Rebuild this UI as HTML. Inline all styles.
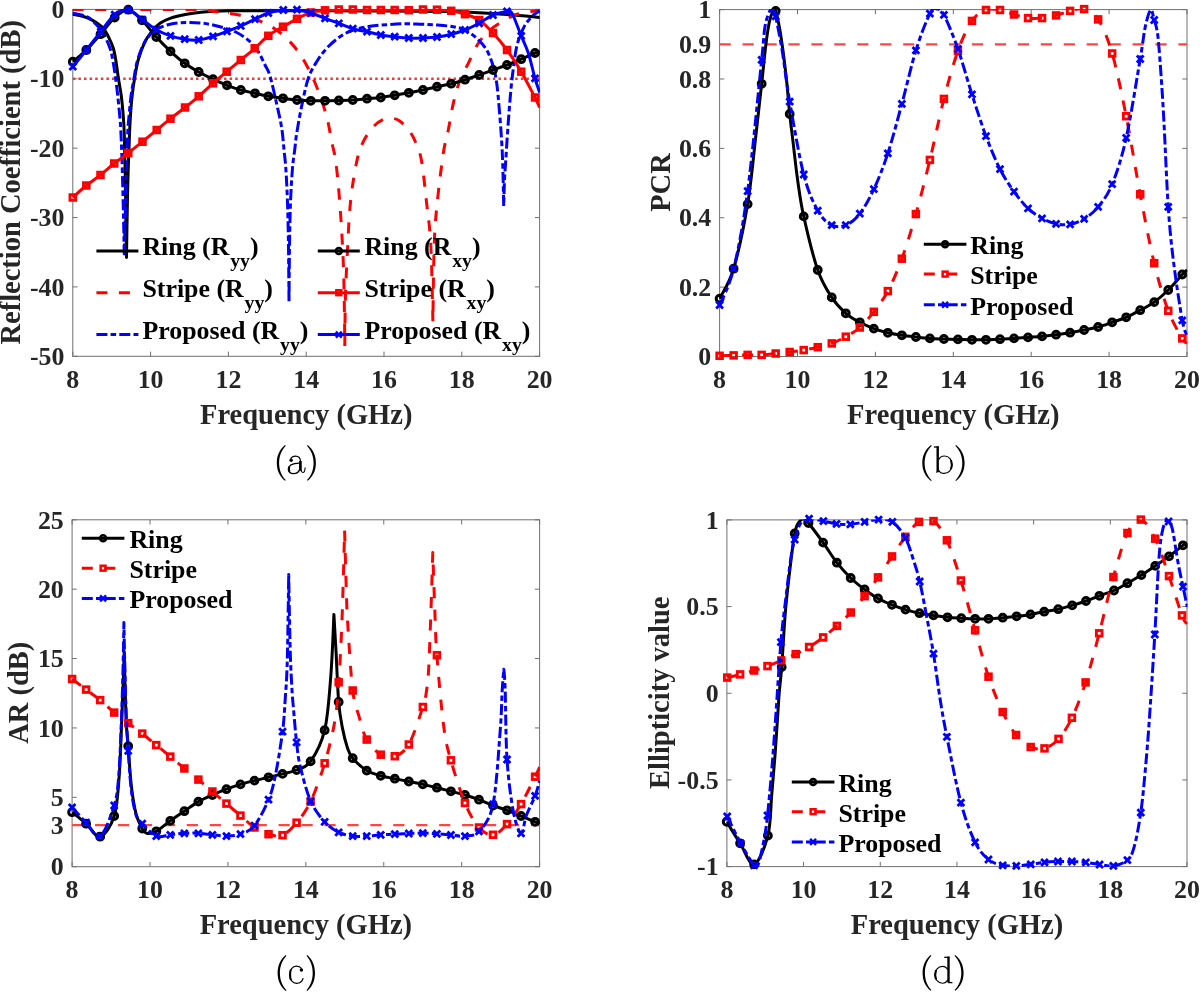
<!DOCTYPE html><html><head><meta charset="utf-8"><style>html,body{margin:0;padding:0;background:#fff;}svg{display:block;will-change:transform;}text{font-family:"Liberation Serif",serif;}</style></head><body>
<svg width="1200" height="992" viewBox="0 0 1200 992">
<rect width="1200" height="992" fill="#fff"/>
<defs>
<clipPath id="clipa"><rect x="72.3" y="8.9" width="467.8" height="347.9"/></clipPath>
<clipPath id="clipb"><rect x="719.1" y="9.1" width="468.4" height="347.9"/></clipPath>
<clipPath id="clipc"><rect x="71.6" y="519.3" width="468.5" height="347.9"/></clipPath>
<clipPath id="clipd"><rect x="726.4" y="519.4" width="461.1" height="347.7"/></clipPath>
</defs>
<rect x="72.8" y="9.4" width="466.8" height="346.9" fill="none" stroke="#707070" stroke-width="1"/>
<path d="M72.8 356.3v-4.7M72.8 9.4v4.7M150.6 356.3v-4.7M150.6 9.4v4.7M228.4 356.3v-4.7M228.4 9.4v4.7M306.2 356.3v-4.7M306.2 9.4v4.7M384 356.3v-4.7M384 9.4v4.7M461.8 356.3v-4.7M461.8 9.4v4.7M539.6 356.3v-4.7M539.6 9.4v4.7M72.8 9.4h4.7M539.6 9.4h-4.7M72.8 78.78h4.7M539.6 78.78h-4.7M72.8 148.16h4.7M539.6 148.16h-4.7M72.8 217.54h4.7M539.6 217.54h-4.7M72.8 286.92h4.7M539.6 286.92h-4.7M72.8 356.3h4.7M539.6 356.3h-4.7" stroke="#707070" stroke-width="1" fill="none"/>
<g clip-path="url(#clipa)">
<path d="M72.8 78.78H539.6" stroke="#ff3333" stroke-width="2.5" stroke-dasharray="2.5 3.1" fill="none"/>
</g>
<path clip-path="url(#clipa)" d="M72.8 14.2C75.12 14.75 83 16.25 86.7 17.5C90.4 18.75 92.23 19.9 95 21.7C97.77 23.5 100.93 25.53 103.3 28.3C105.67 31.07 107.53 34.97 109.2 38.3C110.87 41.63 112.2 44.68 113.3 48.3C114.4 51.92 114.95 55 115.8 60C116.65 65 117.5 72.42 118.4 78.3C119.3 84.18 120.38 88.93 121.2 95.3C122.02 101.67 122.78 109.88 123.3 116.5C123.82 123.12 123.97 124.42 124.3 135C124.63 145.58 125.02 165 125.3 180C125.58 195 125.8 212.08 126 225C126.2 237.92 126.5 257.5 126.5 257.5C126.5 257.5 126.77 237.92 127 225C127.23 212.08 127.52 194.17 127.9 180C128.28 165.83 128.88 150.58 129.3 140C129.72 129.42 129.92 123.95 130.4 116.5C130.88 109.05 131.5 101.67 132.2 95.3C132.9 88.93 133.6 84.18 134.6 78.3C135.6 72.42 136.47 66.1 138.2 60C139.93 53.9 142.75 46.42 145 41.7C147.25 36.98 149.2 34.77 151.7 31.7C154.2 28.63 156.95 25.53 160 23.3C163.05 21.07 165.55 19.82 170 18.3C174.45 16.78 181.15 15.25 186.7 14.2C192.25 13.15 196.37 12.57 203.3 12C210.23 11.43 217.18 11 228.3 10.8C239.42 10.6 246.38 10.78 270 10.8C293.62 10.82 340 10.77 370 10.9C400 11.03 427.78 11.05 450 11.6C472.22 12.15 488.37 13.22 503.3 14.2C518.23 15.18 533.55 16.95 539.6 17.5" fill="none" stroke="#000000" stroke-width="3.0" stroke-linejoin="round"/>
<path clip-path="url(#clipa)" d="M72.8 9.4C85.67 9.4 128.8 9.35 150 9.4C171.2 9.45 188.92 9.3 200 9.7C211.08 10.1 210 10.92 216.5 11.8C223 12.68 231.28 13.27 239 15C246.72 16.73 255.72 19.07 262.8 22.2C269.88 25.33 275.8 29.17 281.5 33.8C287.2 38.43 292.58 44.3 297 50C301.42 55.7 304.58 61.5 308 68C311.42 74.5 314.38 80.88 317.5 89C320.62 97.12 324.33 107.92 326.7 116.7C329.07 125.48 330.18 134.2 331.7 141.7C333.22 149.2 334.45 151.48 335.8 161.7C337.15 171.92 338.6 187.32 339.8 203C341 218.68 342.27 239.97 343 255.8C343.73 271.63 343.9 282.97 344.2 298C344.5 313.03 344.8 346 344.8 346C344.8 346 345 313.03 345.4 298C345.8 282.97 346.37 271.63 347.2 255.8C348.03 239.97 348.82 218.68 350.4 203C351.98 187.32 354.55 171.92 356.7 161.7C358.85 151.48 360.53 147.53 363.3 141.7C366.07 135.87 369.97 130.4 373.3 126.7C376.63 123 380.23 120.9 383.3 119.5C386.37 118.1 388.92 118.02 391.7 118.3C394.48 118.58 396.95 118.97 400 121.2C403.05 123.43 407.22 127.73 410 131.7C412.78 135.67 414.75 140 416.7 145C418.65 150 420.05 152.03 421.7 161.7C423.35 171.37 425.08 189.12 426.6 203C428.12 216.88 429.75 225.17 430.8 245C431.85 264.83 432.9 322 432.9 322C432.9 322 433.48 264.83 434.2 245C434.92 225.17 435.68 218.28 437.2 203C438.72 187.72 441.45 165.47 443.3 153.3C445.15 141.13 446.63 138.33 448.3 130C449.97 121.67 451.35 111.63 453.3 103.3C455.25 94.97 457.5 86.67 460 80C462.5 73.33 465.25 69.42 468.3 63.3C471.35 57.18 474.68 48.85 478.3 43.3C481.92 37.75 485.83 33.75 490 30C494.17 26.25 499.13 23.3 503.3 20.8C507.47 18.3 511.38 16.38 515 15C518.62 13.62 520.9 13.3 525 12.5C529.1 11.7 537.17 10.58 539.6 10.2" fill="none" stroke="#ff0000" stroke-width="3.0" stroke-linejoin="round" stroke-dasharray="11 11.5"/>
<path clip-path="url(#clipa)" d="M72.8 13.3C75.12 13.87 82.72 14.75 86.7 16.7C90.68 18.65 93.93 22.23 96.7 25C99.47 27.77 101.08 29.42 103.3 33.3C105.52 37.18 108.42 43.85 110 48.3C111.58 52.75 111.87 55 112.8 60C113.73 65 114.78 72.42 115.6 78.3C116.42 84.18 117 88.93 117.7 95.3C118.4 101.67 119.28 110.72 119.8 116.5C120.32 122.28 120.43 122.75 120.8 130C121.17 137.25 121.62 148.33 122 160C122.38 171.67 122.78 187.5 123.1 200C123.42 212.5 123.72 226 123.9 235C124.08 244 124.2 254 124.2 254C124.2 254 124.47 244 124.7 235C124.93 226 125.25 212.5 125.6 200C125.95 187.5 126.42 171.67 126.8 160C127.18 148.33 127.53 137.25 127.9 130C128.27 122.75 128.47 122.28 129 116.5C129.53 110.72 130.27 101.67 131.1 95.3C131.93 88.93 133.07 83.63 134 78.3C134.93 72.97 135.42 68.3 136.7 63.3C137.98 58.3 139.77 52.73 141.7 48.3C143.63 43.87 145.8 39.88 148.3 36.7C150.8 33.52 153.08 31.28 156.7 29.2C160.32 27.12 165 25.32 170 24.2C175 23.08 181.15 22.65 186.7 22.5C192.25 22.35 197.75 22.6 203.3 23.3C208.85 24 214.43 25.17 220 26.7C225.57 28.23 231.7 30 236.7 32.5C241.7 35 246.4 38.5 250 41.7C253.6 44.9 255.8 47.82 258.3 51.7C260.8 55.58 263.05 60.95 265 65C266.95 69.05 268.05 69.5 270 76C271.95 82.5 274.75 95.33 276.7 104C278.65 112.67 280.48 120.33 281.7 128C282.92 135.67 283.32 143.33 284 150C284.68 156.67 285.23 159.67 285.8 168C286.37 176.33 286.97 188 287.4 200C287.83 212 288.13 222.93 288.4 240C288.67 257.07 289 302.4 289 302.4C289 302.4 289.33 257.07 289.6 240C289.87 222.93 290.12 212 290.6 200C291.08 188 291.82 176.33 292.5 168C293.18 159.67 294 155.78 294.7 150C295.4 144.22 295.53 140.63 296.7 133.3C297.87 125.97 299.77 115.17 301.7 106C303.63 96.83 305.8 85.68 308.3 78.3C310.8 70.92 313.63 66.7 316.7 61.7C319.77 56.7 322.82 52.47 326.7 48.3C330.58 44.13 335.57 39.75 340 36.7C344.43 33.65 348.3 31.73 353.3 30C358.3 28.27 364.43 27.18 370 26.3C375.57 25.42 381.15 25.12 386.7 24.7C392.25 24.28 397.75 23.88 403.3 23.8C408.85 23.72 414.43 24 420 24.2C425.57 24.4 431.15 24.58 436.7 25C442.25 25.42 448.58 25.87 453.3 26.7C458.02 27.53 461.1 28.07 465 30C468.9 31.93 473.08 34.97 476.7 38.3C480.32 41.63 483.93 45.27 486.7 50C489.47 54.73 491.63 61.15 493.3 66.7C494.97 72.25 495.72 76.37 496.7 83.3C497.68 90.23 498.37 98.57 499.2 108.3C500.03 118.03 501.08 131.42 501.7 141.7C502.32 151.98 502.57 159.28 502.9 170C503.23 180.72 503.7 206 503.7 206C503.7 206 504.15 187.67 504.5 180C504.85 172.33 505.3 167.78 505.8 160C506.3 152.22 506.8 143.3 507.5 133.3C508.2 123.3 509.17 109.72 510 100C510.83 90.28 511.38 83.88 512.5 75C513.62 66.12 514.9 54.48 516.7 46.7C518.5 38.92 520.8 33.3 523.3 28.3C525.8 23.3 528.98 19.62 531.7 16.7C534.42 13.78 538.28 11.78 539.6 10.8" fill="none" stroke="#0000ff" stroke-width="3.0" stroke-linejoin="round" stroke-dasharray="11 3.2 5.5 3.2"/>
<path clip-path="url(#clipa)" d="M72.8 61.7C75.05 59.75 81.68 54.58 86.3 50C90.92 45.42 95.77 39.62 100.5 34.2C105.23 28.78 110.07 21.58 114.7 17.5C119.33 13.42 123.75 9.23 128.3 9.7C132.85 10.17 137.33 15.75 142 20.3C146.67 24.85 151.55 31.83 156.3 37C161.05 42.17 165.77 46.92 170.5 51.3C175.23 55.68 180 59.85 184.7 63.3C189.4 66.75 193.98 69.35 198.7 72C203.42 74.65 208.28 76.98 213 79.2C217.72 81.42 222.37 83.5 227 85.3C231.63 87.1 236.13 88.67 240.8 90C245.47 91.33 250.42 92.25 255 93.3C259.58 94.35 263.63 95.47 268.3 96.3C272.97 97.13 278.22 97.68 283 98.3C287.78 98.92 292.37 99.58 297 100C301.63 100.42 306.13 100.67 310.8 100.8C315.47 100.93 320.33 100.85 325 100.8C329.67 100.75 334.17 100.63 338.8 100.5C343.43 100.37 348.1 100.3 352.8 100C357.5 99.7 362.33 99.12 367 98.7C371.67 98.28 376.18 98.07 380.8 97.5C385.42 96.93 390.03 96.08 394.7 95.3C399.37 94.52 404.08 93.68 408.8 92.8C413.52 91.92 418.3 91.02 423 90C427.7 88.98 432.3 87.75 437 86.7C441.7 85.65 446.53 84.87 451.2 83.7C455.87 82.53 460.33 81.15 465 79.7C469.67 78.25 474.53 76.62 479.2 75C483.87 73.38 488.37 71.67 493 70C497.63 68.33 502.3 66.8 507 65C511.7 63.2 516.53 61.2 521.2 59.2C525.87 57.2 531.93 54.32 535 53C538.07 51.68 538.83 51.58 539.6 51.3" fill="none" stroke="#000000" stroke-width="3.0" stroke-linejoin="round"/><g fill="none" stroke="#000000" stroke-width="3"><circle cx="72.8" cy="61.7" r="3.4"/><circle cx="86.3" cy="50" r="3.4"/><circle cx="100.5" cy="34.2" r="3.4"/><circle cx="114.7" cy="17.5" r="3.4"/><circle cx="128.3" cy="9.7" r="3.4"/><circle cx="142" cy="20.3" r="3.4"/><circle cx="156.3" cy="37" r="3.4"/><circle cx="170.5" cy="51.3" r="3.4"/><circle cx="184.7" cy="63.3" r="3.4"/><circle cx="198.7" cy="72" r="3.4"/><circle cx="213" cy="79.2" r="3.4"/><circle cx="227" cy="85.3" r="3.4"/><circle cx="240.8" cy="90" r="3.4"/><circle cx="255" cy="93.3" r="3.4"/><circle cx="268.3" cy="96.3" r="3.4"/><circle cx="283" cy="98.3" r="3.4"/><circle cx="297" cy="100" r="3.4"/><circle cx="310.8" cy="100.8" r="3.4"/><circle cx="325" cy="100.8" r="3.4"/><circle cx="338.8" cy="100.5" r="3.4"/><circle cx="352.8" cy="100" r="3.4"/><circle cx="367" cy="98.7" r="3.4"/><circle cx="380.8" cy="97.5" r="3.4"/><circle cx="394.7" cy="95.3" r="3.4"/><circle cx="408.8" cy="92.8" r="3.4"/><circle cx="423" cy="90" r="3.4"/><circle cx="437" cy="86.7" r="3.4"/><circle cx="451.2" cy="83.7" r="3.4"/><circle cx="465" cy="79.7" r="3.4"/><circle cx="479.2" cy="75" r="3.4"/><circle cx="493" cy="70" r="3.4"/><circle cx="507" cy="65" r="3.4"/><circle cx="521.2" cy="59.2" r="3.4"/><circle cx="535" cy="53" r="3.4"/></g>
<path clip-path="url(#clipa)" d="M72.8 197.5C75.05 195.5 81.68 189.25 86.3 185.5C90.92 181.75 95.85 178.67 100.5 175C105.15 171.33 109.57 167.17 114.2 163.5C118.83 159.83 123.58 156.63 128.3 153C133.02 149.37 137.77 145.53 142.5 141.7C147.23 137.87 152.03 133.83 156.7 130C161.37 126.17 165.78 122.45 170.5 118.7C175.22 114.95 180.3 111.23 185 107.5C189.7 103.77 194.03 100.33 198.7 96.3C203.37 92.27 208.33 87.4 213 83.3C217.67 79.2 222.07 75.58 226.7 71.7C231.33 67.82 236.13 63.9 240.8 60C245.47 56.1 250.12 52.33 254.7 48.3C259.28 44.27 263.58 39.4 268.3 35.8C273.02 32.2 278.22 29.53 283 26.7C287.78 23.87 292.37 21.17 297 18.8C301.63 16.43 306.13 13.92 310.8 12.5C315.47 11.08 320.33 10.8 325 10.3C329.67 9.8 334.17 9.63 338.8 9.5C343.43 9.37 348.1 9.42 352.8 9.5C357.5 9.58 362.33 9.92 367 10C371.67 10.08 376.18 10 380.8 10C385.42 10 390.03 9.97 394.7 10C399.37 10.03 404.08 10.28 408.8 10.2C413.52 10.12 418.3 9.58 423 9.5C427.7 9.42 432.3 9.48 437 9.7C441.7 9.92 446.53 10.05 451.2 10.8C455.87 11.55 460.33 12.67 465 14.2C469.67 15.73 474.53 16.87 479.2 20C483.87 23.13 488.37 28 493 33C497.63 38 502.3 43.55 507 50C511.7 56.45 516.53 63.78 521.2 71.7C525.87 79.62 531.93 91.53 535 97.5C538.07 103.47 538.83 105.83 539.6 107.5" fill="none" stroke="#ff0000" stroke-width="3.0" stroke-linejoin="round"/><g fill="none" stroke="#ff0000" stroke-width="2.9"><rect x="70" y="194.7" width="5.6" height="5.6"/><rect x="83.5" y="182.7" width="5.6" height="5.6"/><rect x="97.7" y="172.2" width="5.6" height="5.6"/><rect x="111.4" y="160.7" width="5.6" height="5.6"/><rect x="125.5" y="150.2" width="5.6" height="5.6"/><rect x="139.7" y="138.9" width="5.6" height="5.6"/><rect x="153.9" y="127.2" width="5.6" height="5.6"/><rect x="167.7" y="115.9" width="5.6" height="5.6"/><rect x="182.2" y="104.7" width="5.6" height="5.6"/><rect x="195.9" y="93.5" width="5.6" height="5.6"/><rect x="210.2" y="80.5" width="5.6" height="5.6"/><rect x="223.9" y="68.9" width="5.6" height="5.6"/><rect x="238" y="57.2" width="5.6" height="5.6"/><rect x="251.9" y="45.5" width="5.6" height="5.6"/><rect x="265.5" y="33" width="5.6" height="5.6"/><rect x="280.2" y="23.9" width="5.6" height="5.6"/><rect x="294.2" y="16" width="5.6" height="5.6"/><rect x="308" y="9.7" width="5.6" height="5.6"/><rect x="322.2" y="7.5" width="5.6" height="5.6"/><rect x="336" y="6.7" width="5.6" height="5.6"/><rect x="350" y="6.7" width="5.6" height="5.6"/><rect x="364.2" y="7.2" width="5.6" height="5.6"/><rect x="378" y="7.2" width="5.6" height="5.6"/><rect x="391.9" y="7.2" width="5.6" height="5.6"/><rect x="406" y="7.4" width="5.6" height="5.6"/><rect x="420.2" y="6.7" width="5.6" height="5.6"/><rect x="434.2" y="6.9" width="5.6" height="5.6"/><rect x="448.4" y="8" width="5.6" height="5.6"/><rect x="462.2" y="11.4" width="5.6" height="5.6"/><rect x="476.4" y="17.2" width="5.6" height="5.6"/><rect x="490.2" y="30.2" width="5.6" height="5.6"/><rect x="504.2" y="47.2" width="5.6" height="5.6"/><rect x="518.4" y="68.9" width="5.6" height="5.6"/><rect x="532.2" y="94.7" width="5.6" height="5.6"/></g>
<path clip-path="url(#clipa)" d="M72.8 66.7C75.05 63.92 81.63 55.83 86.3 50C90.97 44.17 96.07 37.58 100.8 31.7C105.53 25.82 110.12 18.32 114.7 14.7C119.28 11.08 123.67 9.17 128.3 10C132.93 10.83 137.83 16.42 142.5 19.7C147.17 22.98 151.63 27.02 156.3 29.7C160.97 32.38 165.77 34.22 170.5 35.8C175.23 37.38 180 38.5 184.7 39.2C189.4 39.9 193.98 40.48 198.7 40C203.42 39.52 208.28 37.75 213 36.3C217.72 34.85 222.37 33.05 227 31.3C231.63 29.55 236.13 27.82 240.8 25.8C245.47 23.78 250.42 21.33 255 19.2C259.58 17.07 263.58 14.53 268.3 13C273.02 11.47 278.52 10.55 283.3 10C288.08 9.45 292.42 9.2 297 9.7C301.58 10.2 306.13 11.57 310.8 13C315.47 14.43 320.33 16.58 325 18.3C329.67 20.02 334.17 21.57 338.8 23.3C343.43 25.03 348.1 27.3 352.8 28.7C357.5 30.1 362.33 30.65 367 31.7C371.67 32.75 376.18 34.17 380.8 35C385.42 35.83 390.03 36.2 394.7 36.7C399.37 37.2 404.08 37.78 408.8 38C413.52 38.22 418.3 38.17 423 38C427.7 37.83 432.3 37.63 437 37C441.7 36.37 446.53 35.37 451.2 34.2C455.87 33.03 460.33 31.82 465 30C469.67 28.18 474.53 25.8 479.2 23.3C483.87 20.8 488.37 17 493 15C497.63 13 504.08 11.88 507 11.3C509.92 10.72 509.33 10.47 510.5 11.5C511.67 12.53 512.22 13.45 514 17.5C515.78 21.55 518.82 29.88 521.2 35.8C523.58 41.72 526 45.92 528.3 53C530.6 60.08 533.12 71.72 535 78.3C536.88 84.88 538.83 90.13 539.6 92.5" fill="none" stroke="#0000ff" stroke-width="3.0" stroke-linejoin="round"/><g fill="none" stroke="#0000ff" stroke-width="2.8"><path d="M69.4 63.3L76.2 70.1M69.4 70.1L76.2 63.3"/><path d="M82.9 46.6L89.7 53.4M82.9 53.4L89.7 46.6"/><path d="M97.4 28.3L104.2 35.1M97.4 35.1L104.2 28.3"/><path d="M111.3 11.3L118.1 18.1M111.3 18.1L118.1 11.3"/><path d="M124.9 6.6L131.7 13.4M124.9 13.4L131.7 6.6"/><path d="M139.1 16.3L145.9 23.1M139.1 23.1L145.9 16.3"/><path d="M152.9 26.3L159.7 33.1M152.9 33.1L159.7 26.3"/><path d="M167.1 32.4L173.9 39.2M167.1 39.2L173.9 32.4"/><path d="M181.3 35.8L188.1 42.6M181.3 42.6L188.1 35.8"/><path d="M195.3 36.6L202.1 43.4M195.3 43.4L202.1 36.6"/><path d="M209.6 32.9L216.4 39.7M209.6 39.7L216.4 32.9"/><path d="M223.6 27.9L230.4 34.7M223.6 34.7L230.4 27.9"/><path d="M237.4 22.4L244.2 29.2M237.4 29.2L244.2 22.4"/><path d="M251.6 15.8L258.4 22.6M251.6 22.6L258.4 15.8"/><path d="M264.9 9.6L271.7 16.4M264.9 16.4L271.7 9.6"/><path d="M279.9 6.6L286.7 13.4M279.9 13.4L286.7 6.6"/><path d="M293.6 6.3L300.4 13.1M293.6 13.1L300.4 6.3"/><path d="M307.4 9.6L314.2 16.4M307.4 16.4L314.2 9.6"/><path d="M321.6 14.9L328.4 21.7M321.6 21.7L328.4 14.9"/><path d="M335.4 19.9L342.2 26.7M335.4 26.7L342.2 19.9"/><path d="M349.4 25.3L356.2 32.1M349.4 32.1L356.2 25.3"/><path d="M363.6 28.3L370.4 35.1M363.6 35.1L370.4 28.3"/><path d="M377.4 31.6L384.2 38.4M377.4 38.4L384.2 31.6"/><path d="M391.3 33.3L398.1 40.1M391.3 40.1L398.1 33.3"/><path d="M405.4 34.6L412.2 41.4M405.4 41.4L412.2 34.6"/><path d="M419.6 34.6L426.4 41.4M419.6 41.4L426.4 34.6"/><path d="M433.6 33.6L440.4 40.4M433.6 40.4L440.4 33.6"/><path d="M447.8 30.8L454.6 37.6M447.8 37.6L454.6 30.8"/><path d="M461.6 26.6L468.4 33.4M461.6 33.4L468.4 26.6"/><path d="M475.8 19.9L482.6 26.7M475.8 26.7L482.6 19.9"/><path d="M489.6 11.6L496.4 18.4M489.6 18.4L496.4 11.6"/><path d="M503.6 7.9L510.4 14.7M503.6 14.7L510.4 7.9"/><path d="M517.8 32.4L524.6 39.2M517.8 39.2L524.6 32.4"/><path d="M531.6 74.9L538.4 81.7M531.6 81.7L538.4 74.9"/></g>
<g font-size="25.9" font-weight="bold" fill="#262626">
<text x="72.8" y="387.5" text-anchor="middle">8</text>
<text x="150.6" y="387.5" text-anchor="middle">10</text>
<text x="228.4" y="387.5" text-anchor="middle">12</text>
<text x="306.2" y="387.5" text-anchor="middle">14</text>
<text x="384" y="387.5" text-anchor="middle">16</text>
<text x="461.8" y="387.5" text-anchor="middle">18</text>
<text x="539.6" y="387.5" text-anchor="middle">20</text>
<text x="64.5" y="18.1" text-anchor="end">0</text>
<text x="64.5" y="87.48" text-anchor="end">-10</text>
<text x="64.5" y="156.86" text-anchor="end">-20</text>
<text x="64.5" y="226.24" text-anchor="end">-30</text>
<text x="64.5" y="295.62" text-anchor="end">-40</text>
<text x="64.5" y="365" text-anchor="end">-50</text>
</g>
<rect x="719.6" y="9.6" width="467.4" height="346.9" fill="none" stroke="#707070" stroke-width="1"/>
<path d="M719.6 356.5v-4.7M719.6 9.6v4.7M797.5 356.5v-4.7M797.5 9.6v4.7M875.4 356.5v-4.7M875.4 9.6v4.7M953.3 356.5v-4.7M953.3 9.6v4.7M1031.2 356.5v-4.7M1031.2 9.6v4.7M1109.1 356.5v-4.7M1109.1 9.6v4.7M1187 356.5v-4.7M1187 9.6v4.7M719.6 356.5h4.7M1187 356.5h-4.7M719.6 287.12h4.7M1187 287.12h-4.7M719.6 217.74h4.7M1187 217.74h-4.7M719.6 148.36h4.7M1187 148.36h-4.7M719.6 78.98h4.7M1187 78.98h-4.7M719.6 44.29h4.7M1187 44.29h-4.7M719.6 9.6h4.7M1187 9.6h-4.7" stroke="#707070" stroke-width="1" fill="none"/>
<g clip-path="url(#clipb)">
<path d="M719.6 44.29H1187" stroke="#ff4444" stroke-width="2.3" stroke-dasharray="11.2 11.74" fill="none"/>
</g>
<path clip-path="url(#clipb)" d="M719.6 298.7C721.94 293.7 728.95 284.47 733.62 268.7C738.29 252.93 743.94 226.22 747.64 204.1C751.34 181.98 753.46 156.05 755.8 136C758.14 115.95 759.99 98.9 761.66 83.8C763.33 68.7 764.51 55.73 765.8 45.4C767.09 35.07 768.12 27.67 769.4 21.8C770.68 15.93 772.45 12.02 773.5 10.2C774.55 8.38 774.7 8.07 775.68 10.9C776.66 13.73 778.18 20.55 779.4 27.2C780.62 33.85 781.78 41.72 783 50.8C784.22 59.88 785.58 71.17 786.7 81.7C787.82 92.23 788.65 104.02 789.7 114C790.75 123.98 791.68 130.65 793 141.6C794.32 152.55 795.81 167.23 797.6 179.7C799.39 192.17 800.36 201.35 803.72 216.4C807.08 231.45 813.07 256.5 817.74 270C822.41 283.5 827.09 290.18 831.76 297.4C836.43 304.62 841.11 309.15 845.78 313.3C850.45 317.45 855.13 319.75 859.8 322.3C864.47 324.85 869.15 326.85 873.82 328.6C878.49 330.35 883.17 331.68 887.84 332.8C892.51 333.92 897.19 334.6 901.86 335.3C906.53 336 911.21 336.48 915.88 337C920.55 337.52 925.23 338.07 929.9 338.4C934.57 338.73 939.25 338.83 943.92 339C948.59 339.17 953.27 339.27 957.94 339.4C962.61 339.53 967.29 339.73 971.96 339.8C976.63 339.87 981.31 339.9 985.98 339.8C990.65 339.7 995.33 339.43 1000 339.2C1004.67 338.97 1009.35 338.7 1014.02 338.4C1018.69 338.1 1023.37 337.73 1028.04 337.4C1032.71 337.07 1037.39 336.85 1042.06 336.4C1046.73 335.95 1051.41 335.32 1056.08 334.7C1060.75 334.08 1065.43 333.48 1070.1 332.7C1074.77 331.92 1079.45 330.95 1084.12 330C1088.79 329.05 1093.47 328.28 1098.14 327C1102.81 325.72 1107.49 323.92 1112.16 322.3C1116.83 320.68 1121.51 319.32 1126.18 317.3C1130.85 315.28 1135.53 312.73 1140.2 310.2C1144.87 307.67 1149.55 305.47 1154.22 302.1C1158.89 298.73 1163.57 294.6 1168.24 290C1172.91 285.4 1179.13 277.85 1182.26 274.5C1185.39 271.15 1186.21 270.67 1187 269.9" fill="none" stroke="#000000" stroke-width="3.0" stroke-linejoin="round"/><g fill="none" stroke="#000000" stroke-width="3"><circle cx="719.6" cy="298.7" r="3.4"/><circle cx="733.62" cy="268.7" r="3.4"/><circle cx="747.64" cy="204.1" r="3.4"/><circle cx="761.66" cy="83.8" r="3.4"/><circle cx="775.68" cy="10.9" r="3.4"/><circle cx="789.7" cy="114" r="3.4"/><circle cx="803.72" cy="216.4" r="3.4"/><circle cx="817.74" cy="270" r="3.4"/><circle cx="831.76" cy="297.4" r="3.4"/><circle cx="845.78" cy="313.3" r="3.4"/><circle cx="859.8" cy="322.3" r="3.4"/><circle cx="873.82" cy="328.6" r="3.4"/><circle cx="887.84" cy="332.8" r="3.4"/><circle cx="901.86" cy="335.3" r="3.4"/><circle cx="915.88" cy="337" r="3.4"/><circle cx="929.9" cy="338.4" r="3.4"/><circle cx="943.92" cy="339" r="3.4"/><circle cx="957.94" cy="339.4" r="3.4"/><circle cx="971.96" cy="339.8" r="3.4"/><circle cx="985.98" cy="339.8" r="3.4"/><circle cx="1000" cy="339.2" r="3.4"/><circle cx="1014.02" cy="338.4" r="3.4"/><circle cx="1028.04" cy="337.4" r="3.4"/><circle cx="1042.06" cy="336.4" r="3.4"/><circle cx="1056.08" cy="334.7" r="3.4"/><circle cx="1070.1" cy="332.7" r="3.4"/><circle cx="1084.12" cy="330" r="3.4"/><circle cx="1098.14" cy="327" r="3.4"/><circle cx="1112.16" cy="322.3" r="3.4"/><circle cx="1126.18" cy="317.3" r="3.4"/><circle cx="1140.2" cy="310.2" r="3.4"/><circle cx="1154.22" cy="302.1" r="3.4"/><circle cx="1168.24" cy="290" r="3.4"/><circle cx="1182.26" cy="274.5" r="3.4"/></g>
<path clip-path="url(#clipb)" d="M719.6 355.8C721.94 355.73 728.95 355.55 733.62 355.4C738.29 355.25 742.97 354.98 747.64 354.9C752.31 354.82 756.99 355.13 761.66 354.9C766.33 354.67 771.01 353.98 775.68 353.5C780.35 353.02 785.03 352.57 789.7 352C794.37 351.43 799.05 350.9 803.72 350.1C808.39 349.3 813.07 348.32 817.74 347.2C822.41 346.08 827.09 345.15 831.76 343.4C836.43 341.65 841.11 339.35 845.78 336.7C850.45 334.05 855.13 331.65 859.8 327.5C864.47 323.35 869.15 317.87 873.82 311.8C878.49 305.73 883.17 299.95 887.84 291.1C892.51 282.25 897.19 271.53 901.86 258.7C906.53 245.87 911.21 230.57 915.88 214.1C920.55 197.63 925.23 179.1 929.9 159.9C934.57 140.7 939.25 117.08 943.92 98.9C948.59 80.72 953.27 63.8 957.94 50.8C962.61 37.8 967.29 27.7 971.96 20.9C976.63 14.1 981.31 11.82 985.98 10C990.65 8.18 995.33 9.25 1000 10C1004.67 10.75 1009.35 13.15 1014.02 14.5C1018.69 15.85 1023.37 17.5 1028.04 18.1C1032.71 18.7 1037.39 18.55 1042.06 18.1C1046.73 17.65 1051.41 16.6 1056.08 15.4C1060.75 14.2 1065.43 11.95 1070.1 10.9C1074.77 9.85 1079.45 7.68 1084.12 9.1C1088.79 10.52 1093.47 12 1098.14 19.4C1102.81 26.8 1107.49 37.37 1112.16 53.5C1116.83 69.63 1121.51 92.73 1126.18 116.2C1130.85 139.67 1135.53 169.8 1140.2 194.3C1144.87 218.8 1149.55 243.78 1154.22 263.2C1158.89 282.62 1163.57 298.27 1168.24 310.8C1172.91 323.33 1179.13 332.95 1182.26 338.4C1185.39 343.85 1186.21 342.65 1187 343.5" fill="none" stroke="#ff0000" stroke-width="3.0" stroke-linejoin="round" stroke-dasharray="11 11.5"/><g fill="none" stroke="#ff0000" stroke-width="2.9"><rect x="716.8" y="353" width="5.6" height="5.6"/><rect x="730.82" y="352.6" width="5.6" height="5.6"/><rect x="744.84" y="352.1" width="5.6" height="5.6"/><rect x="758.86" y="352.1" width="5.6" height="5.6"/><rect x="772.88" y="350.7" width="5.6" height="5.6"/><rect x="786.9" y="349.2" width="5.6" height="5.6"/><rect x="800.92" y="347.3" width="5.6" height="5.6"/><rect x="814.94" y="344.4" width="5.6" height="5.6"/><rect x="828.96" y="340.6" width="5.6" height="5.6"/><rect x="842.98" y="333.9" width="5.6" height="5.6"/><rect x="857" y="324.7" width="5.6" height="5.6"/><rect x="871.02" y="309" width="5.6" height="5.6"/><rect x="885.04" y="288.3" width="5.6" height="5.6"/><rect x="899.06" y="255.9" width="5.6" height="5.6"/><rect x="913.08" y="211.3" width="5.6" height="5.6"/><rect x="927.1" y="157.1" width="5.6" height="5.6"/><rect x="941.12" y="96.1" width="5.6" height="5.6"/><rect x="955.14" y="48" width="5.6" height="5.6"/><rect x="969.16" y="18.1" width="5.6" height="5.6"/><rect x="983.18" y="7.2" width="5.6" height="5.6"/><rect x="997.2" y="7.2" width="5.6" height="5.6"/><rect x="1011.22" y="11.7" width="5.6" height="5.6"/><rect x="1025.24" y="15.3" width="5.6" height="5.6"/><rect x="1039.26" y="15.3" width="5.6" height="5.6"/><rect x="1053.28" y="12.6" width="5.6" height="5.6"/><rect x="1067.3" y="8.1" width="5.6" height="5.6"/><rect x="1081.32" y="6.3" width="5.6" height="5.6"/><rect x="1095.34" y="16.6" width="5.6" height="5.6"/><rect x="1109.36" y="50.7" width="5.6" height="5.6"/><rect x="1123.38" y="113.4" width="5.6" height="5.6"/><rect x="1137.4" y="191.5" width="5.6" height="5.6"/><rect x="1151.42" y="260.4" width="5.6" height="5.6"/><rect x="1165.44" y="308" width="5.6" height="5.6"/><rect x="1179.46" y="335.6" width="5.6" height="5.6"/></g>
<path clip-path="url(#clipb)" d="M719.6 305C721.94 298.95 728.95 287.68 733.62 268.7C738.29 249.72 742.97 225.9 747.64 191.1C752.31 156.3 758.78 87.22 761.66 59.9C764.54 32.58 763.58 35.27 764.9 27.2C766.22 19.13 768.2 14.37 769.6 11.5C771 8.63 772.29 9.2 773.3 10C774.31 10.8 774.2 9.5 775.68 16.3C777.16 23.1 779.86 36.58 782.2 50.8C784.54 65.02 786.11 80.98 789.7 101.6C793.29 122.22 799.05 156.33 803.72 174.5C808.39 192.67 813.07 202.15 817.74 210.6C822.41 219.05 827.09 222.77 831.76 225.2C836.43 227.63 841.11 227.12 845.78 225.2C850.45 223.28 855.13 219.7 859.8 213.7C864.47 207.7 869.15 199.25 873.82 189.2C878.49 179.15 883.17 167.62 887.84 153.4C892.51 139.18 897.19 121.07 901.86 103.9C906.53 86.73 911.21 65.45 915.88 50.4C920.55 35.35 926.45 20.52 929.9 13.6C933.35 6.68 934.26 8.68 936.6 8.9C938.94 9.12 940.36 8.22 943.92 14.9C947.48 21.58 953.27 35.75 957.94 49C962.61 62.25 967.29 79.88 971.96 94.4C976.63 108.92 981.31 123.65 985.98 136.1C990.65 148.55 995.33 159.85 1000 169.1C1004.67 178.35 1009.35 185.05 1014.02 191.6C1018.69 198.15 1023.37 203.95 1028.04 208.4C1032.71 212.85 1037.39 215.73 1042.06 218.3C1046.73 220.87 1051.41 222.8 1056.08 223.8C1060.75 224.8 1065.43 225.12 1070.1 224.3C1074.77 223.48 1079.45 221.8 1084.12 218.9C1088.79 216 1093.47 212.68 1098.14 206.9C1102.81 201.12 1107.49 195.7 1112.16 184.2C1116.83 172.7 1121.51 158.77 1126.18 137.9C1130.85 117.03 1137.03 77.45 1140.2 59C1143.37 40.55 1143.47 35.37 1145.2 27.2C1146.93 19.03 1149.1 11.2 1150.6 10C1152.1 8.8 1153 15.62 1154.22 20C1155.44 24.38 1156.69 26.02 1157.9 36.3C1159.11 46.58 1160.45 66.58 1161.5 81.7C1162.55 96.82 1163.08 106.15 1164.2 127C1165.32 147.85 1166.71 184.5 1168.24 206.8C1169.77 229.1 1171.06 241.88 1173.4 260.8C1175.74 279.72 1179.99 307.87 1182.26 320.3C1184.53 332.73 1186.21 332.88 1187 335.4" fill="none" stroke="#0000ff" stroke-width="3.0" stroke-linejoin="round" stroke-dasharray="11 3.2 5.5 3.2"/><g fill="none" stroke="#0000ff" stroke-width="2.8"><path d="M716.2 301.6L723 308.4M716.2 308.4L723 301.6"/><path d="M730.22 265.3L737.02 272.1M730.22 272.1L737.02 265.3"/><path d="M744.24 187.7L751.04 194.5M744.24 194.5L751.04 187.7"/><path d="M758.26 56.5L765.06 63.3M758.26 63.3L765.06 56.5"/><path d="M772.28 12.9L779.08 19.7M772.28 19.7L779.08 12.9"/><path d="M786.3 98.2L793.1 105M786.3 105L793.1 98.2"/><path d="M800.32 171.1L807.12 177.9M800.32 177.9L807.12 171.1"/><path d="M814.34 207.2L821.14 214M814.34 214L821.14 207.2"/><path d="M828.36 221.8L835.16 228.6M828.36 228.6L835.16 221.8"/><path d="M842.38 221.8L849.18 228.6M842.38 228.6L849.18 221.8"/><path d="M856.4 210.3L863.2 217.1M856.4 217.1L863.2 210.3"/><path d="M870.42 185.8L877.22 192.6M870.42 192.6L877.22 185.8"/><path d="M884.44 150L891.24 156.8M884.44 156.8L891.24 150"/><path d="M898.46 100.5L905.26 107.3M898.46 107.3L905.26 100.5"/><path d="M912.48 47L919.28 53.8M912.48 53.8L919.28 47"/><path d="M926.5 10.2L933.3 17M926.5 17L933.3 10.2"/><path d="M940.52 11.5L947.32 18.3M940.52 18.3L947.32 11.5"/><path d="M954.54 45.6L961.34 52.4M954.54 52.4L961.34 45.6"/><path d="M968.56 91L975.36 97.8M968.56 97.8L975.36 91"/><path d="M982.58 132.7L989.38 139.5M982.58 139.5L989.38 132.7"/><path d="M996.6 165.7L1003.4 172.5M996.6 172.5L1003.4 165.7"/><path d="M1010.62 188.2L1017.42 195M1010.62 195L1017.42 188.2"/><path d="M1024.64 205L1031.44 211.8M1024.64 211.8L1031.44 205"/><path d="M1038.66 214.9L1045.46 221.7M1038.66 221.7L1045.46 214.9"/><path d="M1052.68 220.4L1059.48 227.2M1052.68 227.2L1059.48 220.4"/><path d="M1066.7 220.9L1073.5 227.7M1066.7 227.7L1073.5 220.9"/><path d="M1080.72 215.5L1087.52 222.3M1080.72 222.3L1087.52 215.5"/><path d="M1094.74 203.5L1101.54 210.3M1094.74 210.3L1101.54 203.5"/><path d="M1108.76 180.8L1115.56 187.6M1108.76 187.6L1115.56 180.8"/><path d="M1122.78 134.5L1129.58 141.3M1122.78 141.3L1129.58 134.5"/><path d="M1136.8 55.6L1143.6 62.4M1136.8 62.4L1143.6 55.6"/><path d="M1150.82 16.6L1157.62 23.4M1150.82 23.4L1157.62 16.6"/><path d="M1164.84 203.4L1171.64 210.2M1164.84 210.2L1171.64 203.4"/><path d="M1178.86 316.9L1185.66 323.7M1178.86 323.7L1185.66 316.9"/></g>
<g font-size="25.9" font-weight="bold" fill="#262626">
<text x="719.6" y="387.7" text-anchor="middle">8</text>
<text x="797.5" y="387.7" text-anchor="middle">10</text>
<text x="875.4" y="387.7" text-anchor="middle">12</text>
<text x="953.3" y="387.7" text-anchor="middle">14</text>
<text x="1031.2" y="387.7" text-anchor="middle">16</text>
<text x="1109.1" y="387.7" text-anchor="middle">18</text>
<text x="1187" y="387.7" text-anchor="middle">20</text>
<text x="711.3" y="365.2" text-anchor="end">0</text>
<text x="711.3" y="295.82" text-anchor="end">0.2</text>
<text x="711.3" y="226.44" text-anchor="end">0.4</text>
<text x="711.3" y="157.06" text-anchor="end">0.6</text>
<text x="711.3" y="87.68" text-anchor="end">0.8</text>
<text x="711.3" y="52.99" text-anchor="end">0.9</text>
<text x="711.3" y="18.3" text-anchor="end">1</text>
</g>
<rect x="72.1" y="519.8" width="467.5" height="346.9" fill="none" stroke="#707070" stroke-width="1"/>
<path d="M72.1 866.7v-4.7M72.1 519.8v4.7M150.02 866.7v-4.7M150.02 519.8v4.7M227.93 866.7v-4.7M227.93 519.8v4.7M305.85 866.7v-4.7M305.85 519.8v4.7M383.77 866.7v-4.7M383.77 519.8v4.7M461.68 866.7v-4.7M461.68 519.8v4.7M539.6 866.7v-4.7M539.6 519.8v4.7M72.1 866.7h4.7M539.6 866.7h-4.7M72.1 825.07h4.7M539.6 825.07h-4.7M72.1 797.32h4.7M539.6 797.32h-4.7M72.1 727.94h4.7M539.6 727.94h-4.7M72.1 658.56h4.7M539.6 658.56h-4.7M72.1 589.18h4.7M539.6 589.18h-4.7M72.1 519.8h4.7M539.6 519.8h-4.7" stroke="#707070" stroke-width="1" fill="none"/>
<g clip-path="url(#clipc)">
<path d="M72.1 825.07H539.6" stroke="#ff4444" stroke-width="2.3" stroke-dasharray="11.2 11.74" fill="none"/>
</g>
<path clip-path="url(#clipc)" d="M72.1 812.2C74.44 814.12 81.45 819.62 86.13 823.7C90.81 827.78 95.48 837.98 100.16 836.7C104.84 835.42 111.02 826.15 114.19 816C117.36 805.85 117.93 792.08 119.2 775.8C120.47 759.52 121.12 734.27 121.8 718.3C122.48 702.33 122.9 691.12 123.3 680C123.7 668.88 124.2 651.6 124.2 651.6C124.2 651.6 124.83 677.77 125.2 690C125.57 702.23 125.9 715.65 126.4 725C126.9 734.35 127.4 736.03 128.22 746.1C129.04 756.17 129.99 774.07 131.3 785.4C132.61 796.73 134.28 806.92 136.1 814.1C137.92 821.28 140.5 825.3 142.25 828.5C144 831.7 144.26 832.83 146.6 833.3C148.94 833.77 152.33 833.38 156.28 831.3C160.23 829.22 165.63 824.15 170.31 820.8C174.99 817.45 179.66 814.4 184.34 811.2C189.02 808 193.69 804.3 198.37 801.6C203.05 798.9 207.72 797.07 212.4 795C217.08 792.93 221.75 790.97 226.43 789.2C231.11 787.43 235.78 785.83 240.46 784.4C245.14 782.97 249.81 781.78 254.49 780.6C259.17 779.42 263.84 778.42 268.52 777.3C273.2 776.18 277.87 775.12 282.55 773.9C287.23 772.68 291.9 772.08 296.58 770C301.26 767.92 305.93 768.03 310.61 761.4C315.29 754.77 321.29 744.22 324.64 730.2C327.99 716.18 329.16 696.6 330.7 677.3C332.24 658 333.9 614.4 333.9 614.4C333.9 614.4 335.2 636.4 336 651C336.8 665.6 337.6 689.18 338.67 702C339.74 714.82 340.93 720.23 342.4 727.9C343.87 735.57 345.78 742.95 347.5 748C349.22 753.05 349.49 754.43 352.7 758.2C355.9 761.97 362.05 767.67 366.73 770.6C371.41 773.53 376.08 774.45 380.76 775.8C385.44 777.15 390.11 777.75 394.79 778.7C399.47 779.65 404.14 780.55 408.82 781.5C413.5 782.45 418.17 783.37 422.85 784.4C427.53 785.43 432.2 786.55 436.88 787.7C441.56 788.85 446.23 790.08 450.91 791.3C455.59 792.52 460.26 793.6 464.94 795C469.62 796.4 474.29 797.95 478.97 799.7C483.65 801.45 488.32 803.73 493 805.5C497.68 807.27 502.35 808.55 507.03 810.3C511.71 812.05 516.38 814.08 521.06 816C525.74 817.92 532 820.52 535.09 821.8C538.18 823.08 538.85 823.38 539.6 823.7" fill="none" stroke="#000000" stroke-width="3.0" stroke-linejoin="round"/><g fill="none" stroke="#000000" stroke-width="3"><circle cx="72.1" cy="812.2" r="3.4"/><circle cx="86.13" cy="823.7" r="3.4"/><circle cx="100.16" cy="836.7" r="3.4"/><circle cx="114.19" cy="816" r="3.4"/><circle cx="128.22" cy="746.1" r="3.4"/><circle cx="142.25" cy="828.5" r="3.4"/><circle cx="156.28" cy="831.3" r="3.4"/><circle cx="170.31" cy="820.8" r="3.4"/><circle cx="184.34" cy="811.2" r="3.4"/><circle cx="198.37" cy="801.6" r="3.4"/><circle cx="212.4" cy="795" r="3.4"/><circle cx="226.43" cy="789.2" r="3.4"/><circle cx="240.46" cy="784.4" r="3.4"/><circle cx="254.49" cy="780.6" r="3.4"/><circle cx="268.52" cy="777.3" r="3.4"/><circle cx="282.55" cy="773.9" r="3.4"/><circle cx="296.58" cy="770" r="3.4"/><circle cx="310.61" cy="761.4" r="3.4"/><circle cx="324.64" cy="730.2" r="3.4"/><circle cx="338.67" cy="702" r="3.4"/><circle cx="352.7" cy="758.2" r="3.4"/><circle cx="366.73" cy="770.6" r="3.4"/><circle cx="380.76" cy="775.8" r="3.4"/><circle cx="394.79" cy="778.7" r="3.4"/><circle cx="408.82" cy="781.5" r="3.4"/><circle cx="422.85" cy="784.4" r="3.4"/><circle cx="436.88" cy="787.7" r="3.4"/><circle cx="450.91" cy="791.3" r="3.4"/><circle cx="464.94" cy="795" r="3.4"/><circle cx="478.97" cy="799.7" r="3.4"/><circle cx="493" cy="805.5" r="3.4"/><circle cx="507.03" cy="810.3" r="3.4"/><circle cx="521.06" cy="816" r="3.4"/><circle cx="535.09" cy="821.8" r="3.4"/></g>
<path clip-path="url(#clipc)" d="M72.1 679C74.44 680.77 81.45 686.08 86.13 689.6C90.81 693.12 95.48 696.27 100.16 700.1C104.84 703.93 109.51 708.77 114.19 712.6C118.87 716.43 123.54 719.6 128.22 723.1C132.9 726.6 137.57 729.93 142.25 733.6C146.93 737.27 151.6 741.27 156.28 745.1C160.96 748.93 165.63 752.7 170.31 756.6C174.99 760.5 179.66 764.67 184.34 768.5C189.02 772.33 193.69 775.77 198.37 779.6C203.05 783.43 207.72 787.5 212.4 791.5C217.08 795.5 221.75 799.58 226.43 803.6C231.11 807.62 235.78 811.62 240.46 815.6C245.14 819.58 249.81 824.4 254.49 827.5C259.17 830.6 263.84 832.92 268.52 834.2C273.2 835.48 277.87 837.12 282.55 835.2C287.23 833.28 291.9 828.3 296.58 822.7C301.26 817.1 305.93 811.5 310.61 801.6C315.29 791.7 320.62 776.6 324.64 763.3C328.65 750 332.36 735.3 334.7 721.8C337.04 708.3 337.45 699.27 338.67 682.3C339.89 665.33 341.01 645.3 342 620C342.99 594.7 344.6 530.5 344.6 530.5C344.6 530.5 346.07 584.28 346.6 600C347.13 615.72 346.78 609.72 347.8 624.8C348.82 639.88 350.73 674.92 352.7 690.5C354.67 706.08 357.26 710.12 359.6 718.3C361.94 726.48 363.2 733.53 366.73 739.6C370.26 745.67 376.08 751.93 380.76 754.7C385.44 757.47 390.11 757.9 394.79 756.2C399.47 754.5 404.14 752.7 408.82 744.5C413.5 736.3 419.87 716.15 422.85 707C425.83 697.85 425.74 695.77 426.7 689.6C427.66 683.43 427.92 682.43 428.6 670C429.28 657.57 430.1 634.57 430.8 615C431.5 595.43 432.8 552.6 432.8 552.6C432.8 552.6 434.12 592.9 434.8 610C435.48 627.1 435.36 635.55 436.88 655.2C438.4 674.85 441.56 710.38 443.9 727.9C446.24 745.42 447.4 747.78 450.91 760.3C454.42 772.82 460.26 791.8 464.94 803C469.62 814.2 474.29 822.2 478.97 827.5C483.65 832.8 488.32 835.37 493 834.8C497.68 834.23 502.35 829.22 507.03 824.1C511.71 818.98 516.38 812 521.06 804.1C525.74 796.2 532 782.85 535.09 776.7C538.18 770.55 538.85 768.78 539.6 767.2" fill="none" stroke="#ff0000" stroke-width="3.0" stroke-linejoin="round" stroke-dasharray="11 11.5"/><g fill="none" stroke="#ff0000" stroke-width="2.9"><rect x="69.3" y="676.2" width="5.6" height="5.6"/><rect x="83.33" y="686.8" width="5.6" height="5.6"/><rect x="97.36" y="697.3" width="5.6" height="5.6"/><rect x="111.39" y="709.8" width="5.6" height="5.6"/><rect x="125.42" y="720.3" width="5.6" height="5.6"/><rect x="139.45" y="730.8" width="5.6" height="5.6"/><rect x="153.48" y="742.3" width="5.6" height="5.6"/><rect x="167.51" y="753.8" width="5.6" height="5.6"/><rect x="181.54" y="765.7" width="5.6" height="5.6"/><rect x="195.57" y="776.8" width="5.6" height="5.6"/><rect x="209.6" y="788.7" width="5.6" height="5.6"/><rect x="223.63" y="800.8" width="5.6" height="5.6"/><rect x="237.66" y="812.8" width="5.6" height="5.6"/><rect x="251.69" y="824.7" width="5.6" height="5.6"/><rect x="265.72" y="831.4" width="5.6" height="5.6"/><rect x="279.75" y="832.4" width="5.6" height="5.6"/><rect x="293.78" y="819.9" width="5.6" height="5.6"/><rect x="307.81" y="798.8" width="5.6" height="5.6"/><rect x="321.84" y="760.5" width="5.6" height="5.6"/><rect x="335.87" y="679.5" width="5.6" height="5.6"/><rect x="349.9" y="687.7" width="5.6" height="5.6"/><rect x="363.93" y="736.8" width="5.6" height="5.6"/><rect x="377.96" y="751.9" width="5.6" height="5.6"/><rect x="391.99" y="753.4" width="5.6" height="5.6"/><rect x="406.02" y="741.7" width="5.6" height="5.6"/><rect x="420.05" y="704.2" width="5.6" height="5.6"/><rect x="434.08" y="652.4" width="5.6" height="5.6"/><rect x="448.11" y="757.5" width="5.6" height="5.6"/><rect x="462.14" y="800.2" width="5.6" height="5.6"/><rect x="476.17" y="824.7" width="5.6" height="5.6"/><rect x="490.2" y="832" width="5.6" height="5.6"/><rect x="504.23" y="821.3" width="5.6" height="5.6"/><rect x="518.26" y="801.3" width="5.6" height="5.6"/><rect x="532.29" y="773.9" width="5.6" height="5.6"/></g>
<path clip-path="url(#clipc)" d="M72.1 807.4C74.44 809.95 81.45 817.92 86.13 822.7C90.81 827.48 95.48 838.97 100.16 836.1C104.84 833.23 111.08 815.68 114.19 805.5C117.3 795.32 117.58 789.58 118.8 775C120.02 760.42 120.8 735.5 121.5 718C122.2 700.5 122.6 685.9 123 670C123.4 654.1 123.9 622.6 123.9 622.6C123.9 622.6 124.52 654.6 124.9 670C125.28 685.4 125.65 701.52 126.2 715C126.75 728.48 127.37 738.4 128.22 750.9C129.07 763.4 129.99 779.32 131.3 790C132.61 800.68 134.28 809.38 136.1 815C137.92 820.62 138.89 820.18 142.25 823.7C145.61 827.22 151.6 834.25 156.28 836.1C160.96 837.95 165.63 835.27 170.31 834.8C174.99 834.33 179.66 833.55 184.34 833.3C189.02 833.05 193.69 833.05 198.37 833.3C203.05 833.55 207.72 834.33 212.4 834.8C217.08 835.27 221.75 836.2 226.43 836.1C231.11 836 235.78 835.95 240.46 834.2C245.14 832.45 249.81 831.35 254.49 825.6C259.17 819.85 265.05 808 268.52 799.7C271.99 791.4 272.96 787.13 275.3 775.8C277.64 764.47 280.9 744.47 282.55 731.7C284.2 718.93 284.41 711.15 285.2 699.2C285.99 687.25 286.72 680.8 287.3 660C287.88 639.2 288.7 574.4 288.7 574.4C288.7 574.4 289.65 630.73 290.2 650C290.75 669.27 291.45 680.22 292 690C292.55 699.78 292.74 699.98 293.5 708.7C294.26 717.42 295.46 732.72 296.58 742.3C297.7 751.88 297.86 756.4 300.2 766.2C302.54 776 306.54 791.83 310.61 801.1C314.68 810.37 319.96 816.6 324.64 821.8C329.32 827 333.99 829.92 338.67 832.3C343.35 834.68 348.02 835.47 352.7 836.1C357.38 836.73 362.05 836.32 366.73 836.1C371.41 835.88 376.08 835.12 380.76 834.8C385.44 834.48 390.11 834.42 394.79 834.2C399.47 833.98 404.14 833.68 408.82 833.5C413.5 833.32 418.17 833.05 422.85 833.1C427.53 833.15 432.2 833.48 436.88 833.8C441.56 834.12 446.23 834.62 450.91 835C455.59 835.38 460.26 836.72 464.94 836.1C469.62 835.48 474.29 836.57 478.97 831.3C483.65 826.03 489.46 821.28 493 804.5C496.54 787.72 498.67 749.63 500.2 730.6C501.73 711.57 501.6 700.53 502.2 690.3C502.8 680.07 503.8 669.2 503.8 669.2C503.8 669.2 504.66 675.25 505.2 690.3C505.74 705.35 505.68 739.33 507.03 759.5C508.38 779.67 510.96 799 513.3 811.3C515.64 823.6 518.88 832.63 521.06 833.3C523.24 833.97 524.06 821.53 526.4 815.3C528.74 809.07 532.89 801.62 535.09 795.9C537.29 790.18 538.85 783.48 539.6 781" fill="none" stroke="#0000ff" stroke-width="3.0" stroke-linejoin="round" stroke-dasharray="11 3.2 5.5 3.2"/><g fill="none" stroke="#0000ff" stroke-width="2.8"><path d="M68.7 804L75.5 810.8M68.7 810.8L75.5 804"/><path d="M82.73 819.3L89.53 826.1M82.73 826.1L89.53 819.3"/><path d="M96.76 832.7L103.56 839.5M96.76 839.5L103.56 832.7"/><path d="M110.79 802.1L117.59 808.9M110.79 808.9L117.59 802.1"/><path d="M124.82 747.5L131.62 754.3M124.82 754.3L131.62 747.5"/><path d="M138.85 820.3L145.65 827.1M138.85 827.1L145.65 820.3"/><path d="M152.88 832.7L159.68 839.5M152.88 839.5L159.68 832.7"/><path d="M166.91 831.4L173.71 838.2M166.91 838.2L173.71 831.4"/><path d="M180.94 829.9L187.74 836.7M180.94 836.7L187.74 829.9"/><path d="M194.97 829.9L201.77 836.7M194.97 836.7L201.77 829.9"/><path d="M209 831.4L215.8 838.2M209 838.2L215.8 831.4"/><path d="M223.03 832.7L229.83 839.5M223.03 839.5L229.83 832.7"/><path d="M237.06 830.8L243.86 837.6M237.06 837.6L243.86 830.8"/><path d="M251.09 822.2L257.89 829M251.09 829L257.89 822.2"/><path d="M265.12 796.3L271.92 803.1M265.12 803.1L271.92 796.3"/><path d="M279.15 728.3L285.95 735.1M279.15 735.1L285.95 728.3"/><path d="M293.18 738.9L299.98 745.7M293.18 745.7L299.98 738.9"/><path d="M307.21 797.7L314.01 804.5M307.21 804.5L314.01 797.7"/><path d="M321.24 818.4L328.04 825.2M321.24 825.2L328.04 818.4"/><path d="M335.27 828.9L342.07 835.7M335.27 835.7L342.07 828.9"/><path d="M349.3 832.7L356.1 839.5M349.3 839.5L356.1 832.7"/><path d="M363.33 832.7L370.13 839.5M363.33 839.5L370.13 832.7"/><path d="M377.36 831.4L384.16 838.2M377.36 838.2L384.16 831.4"/><path d="M391.39 830.8L398.19 837.6M391.39 837.6L398.19 830.8"/><path d="M405.42 830.1L412.22 836.9M405.42 836.9L412.22 830.1"/><path d="M419.45 829.7L426.25 836.5M419.45 836.5L426.25 829.7"/><path d="M433.48 830.4L440.28 837.2M433.48 837.2L440.28 830.4"/><path d="M447.51 831.6L454.31 838.4M447.51 838.4L454.31 831.6"/><path d="M461.54 832.7L468.34 839.5M461.54 839.5L468.34 832.7"/><path d="M475.57 827.9L482.37 834.7M475.57 834.7L482.37 827.9"/><path d="M489.6 801.1L496.4 807.9M489.6 807.9L496.4 801.1"/><path d="M503.63 756.1L510.43 762.9M503.63 762.9L510.43 756.1"/><path d="M517.66 829.9L524.46 836.7M517.66 836.7L524.46 829.9"/><path d="M531.69 792.5L538.49 799.3M531.69 799.3L538.49 792.5"/></g>
<g font-size="25.9" font-weight="bold" fill="#262626">
<text x="72.1" y="897.9" text-anchor="middle">8</text>
<text x="150.02" y="897.9" text-anchor="middle">10</text>
<text x="227.93" y="897.9" text-anchor="middle">12</text>
<text x="305.85" y="897.9" text-anchor="middle">14</text>
<text x="383.77" y="897.9" text-anchor="middle">16</text>
<text x="461.68" y="897.9" text-anchor="middle">18</text>
<text x="539.6" y="897.9" text-anchor="middle">20</text>
<text x="63.8" y="875.4" text-anchor="end">0</text>
<text x="63.8" y="833.77" text-anchor="end">3</text>
<text x="63.8" y="806.02" text-anchor="end">5</text>
<text x="63.8" y="736.64" text-anchor="end">10</text>
<text x="63.8" y="667.26" text-anchor="end">15</text>
<text x="63.8" y="597.88" text-anchor="end">20</text>
<text x="63.8" y="528.5" text-anchor="end">25</text>
</g>
<rect x="726.9" y="519.9" width="460.1" height="346.7" fill="none" stroke="#707070" stroke-width="1"/>
<path d="M726.9 866.6v-4.7M726.9 519.9v4.7M803.58 866.6v-4.7M803.58 519.9v4.7M880.27 866.6v-4.7M880.27 519.9v4.7M956.95 866.6v-4.7M956.95 519.9v4.7M1033.63 866.6v-4.7M1033.63 519.9v4.7M1110.32 866.6v-4.7M1110.32 519.9v4.7M1187 866.6v-4.7M1187 519.9v4.7M726.9 866.6h4.7M1187 866.6h-4.7M726.9 779.92h4.7M1187 779.92h-4.7M726.9 693.25h4.7M1187 693.25h-4.7M726.9 606.58h4.7M1187 606.58h-4.7M726.9 519.9h4.7M1187 519.9h-4.7" stroke="#707070" stroke-width="1" fill="none"/>
<g clip-path="url(#clipd)">
</g>
<path clip-path="url(#clipd)" d="M726.7 821.8C728.93 825.38 735.53 836.22 740.1 843.3C744.67 850.38 749.47 865.58 754.1 864.3C758.73 863.02 764.97 847.08 767.9 835.6C770.83 824.12 770.42 810.08 771.7 795.4C772.98 780.72 774.4 763.9 775.6 747.5C776.8 731.1 777.88 710.4 778.9 697C779.92 683.6 780.67 680.7 781.7 667.1C782.73 653.5 783.88 630.42 785.1 615.4C786.32 600.38 787.4 590.67 789 577C790.6 563.33 792.95 542.65 794.7 533.4C796.45 524.15 797.9 523.93 799.5 521.5C801.1 519.07 802.8 518.55 804.3 518.8C805.8 519.05 805.37 519.03 808.5 523C811.63 526.97 818.37 535.98 823.1 542.6C827.83 549.22 832.3 556.8 836.9 562.7C841.5 568.6 846.08 573.53 850.7 578C855.32 582.47 860.05 586.08 864.6 589.5C869.15 592.92 873.43 595.95 878 598.5C882.57 601.05 887.42 602.95 892 604.8C896.58 606.65 900.92 608.2 905.5 609.6C910.08 611 914.83 612.23 919.5 613.2C924.17 614.17 928.83 614.72 933.5 615.4C938.17 616.08 942.87 616.83 947.5 617.3C952.13 617.77 956.7 617.95 961.3 618.2C965.9 618.45 970.57 618.7 975.1 618.8C979.63 618.9 983.9 618.98 988.5 618.8C993.1 618.62 998.02 618.12 1002.7 617.7C1007.38 617.28 1011.97 616.85 1016.6 616.3C1021.23 615.75 1025.9 615.17 1030.5 614.4C1035.1 613.63 1039.58 612.57 1044.2 611.7C1048.82 610.83 1053.53 610.25 1058.2 609.2C1062.87 608.15 1067.57 606.77 1072.2 605.4C1076.83 604.03 1081.47 602.6 1086 601C1090.53 599.4 1094.73 597.55 1099.4 595.8C1104.07 594.05 1109.33 592.6 1114 590.5C1118.67 588.4 1122.83 585.77 1127.4 583.2C1131.97 580.63 1136.77 577.98 1141.4 575.1C1146.03 572.22 1150.6 569.02 1155.2 565.9C1159.8 562.78 1164.38 559.82 1169 556.4C1173.62 552.98 1179.9 547.7 1182.9 545.4C1185.9 543.1 1186.32 543.07 1187 542.6" fill="none" stroke="#000000" stroke-width="3.0" stroke-linejoin="round"/><g fill="none" stroke="#000000" stroke-width="3"><circle cx="726.7" cy="821.8" r="3.4"/><circle cx="740.1" cy="843.3" r="3.4"/><circle cx="754.1" cy="864.3" r="3.4"/><circle cx="767.9" cy="835.6" r="3.4"/><circle cx="781.7" cy="667.1" r="3.4"/><circle cx="794.7" cy="533.4" r="3.4"/><circle cx="808.5" cy="523" r="3.4"/><circle cx="823.1" cy="542.6" r="3.4"/><circle cx="836.9" cy="562.7" r="3.4"/><circle cx="850.7" cy="578" r="3.4"/><circle cx="864.6" cy="589.5" r="3.4"/><circle cx="878" cy="598.5" r="3.4"/><circle cx="892" cy="604.8" r="3.4"/><circle cx="905.5" cy="609.6" r="3.4"/><circle cx="919.5" cy="613.2" r="3.4"/><circle cx="933.5" cy="615.4" r="3.4"/><circle cx="947.5" cy="617.3" r="3.4"/><circle cx="961.3" cy="618.2" r="3.4"/><circle cx="975.1" cy="618.8" r="3.4"/><circle cx="988.5" cy="618.8" r="3.4"/><circle cx="1002.7" cy="617.7" r="3.4"/><circle cx="1016.6" cy="616.3" r="3.4"/><circle cx="1030.5" cy="614.4" r="3.4"/><circle cx="1044.2" cy="611.7" r="3.4"/><circle cx="1058.2" cy="609.2" r="3.4"/><circle cx="1072.2" cy="605.4" r="3.4"/><circle cx="1086" cy="601" r="3.4"/><circle cx="1099.4" cy="595.8" r="3.4"/><circle cx="1114" cy="590.5" r="3.4"/><circle cx="1127.4" cy="583.2" r="3.4"/><circle cx="1141.4" cy="575.1" r="3.4"/><circle cx="1155.2" cy="565.9" r="3.4"/><circle cx="1169" cy="556.4" r="3.4"/><circle cx="1182.9" cy="545.4" r="3.4"/></g>
<path clip-path="url(#clipd)" d="M727.2 677.6C729.35 677.07 735.62 675.58 740.1 674.4C744.58 673.22 749.53 671.88 754.1 670.5C758.67 669.12 762.97 667.78 767.5 666.1C772.03 664.42 776.6 662.4 781.3 660.4C786 658.4 791.07 656.33 795.7 654.1C800.33 651.87 804.53 649.78 809.1 647C813.67 644.22 818.47 640.92 823.1 637.4C827.73 633.88 832.28 630.05 836.9 625.9C841.52 621.75 846.18 617.45 850.8 612.5C855.42 607.55 860.07 602.05 864.6 596.2C869.13 590.35 873.43 584.03 878 577.4C882.57 570.77 887.43 563.17 892 556.4C896.57 549.63 900.9 542.55 905.4 536.8C909.9 531.05 914.32 524.52 919 521.9C923.68 519.28 928.85 518.03 933.5 521.1C938.15 524.17 942.33 530.4 946.9 540.3C951.47 550.2 956.2 565.5 960.9 580.5C965.6 595.5 970.5 614.27 975.1 630.3C979.7 646.33 983.9 663.08 988.5 676.7C993.1 690.32 998.1 702.28 1002.7 712C1007.3 721.72 1011.43 729.17 1016.1 735C1020.77 740.83 1025.97 744.77 1030.7 747C1035.43 749.23 1039.87 749.75 1044.5 748.4C1049.13 747.05 1053.93 744 1058.5 738.9C1063.07 733.8 1067.38 727.22 1071.9 717.8C1076.42 708.38 1081.05 696.48 1085.6 682.4C1090.15 668.32 1094.57 650.87 1099.2 633.3C1103.83 615.73 1108.7 593.72 1113.4 577C1118.1 560.28 1122.83 542.57 1127.4 533C1131.97 523.43 1136.17 518.65 1140.8 519.6C1145.43 520.55 1150.5 529.28 1155.2 538.7C1159.9 548.12 1164.53 563.32 1169 576.1C1173.47 588.88 1179 607.42 1182 615.4C1185 623.38 1186.17 622.57 1187 624" fill="none" stroke="#ff0000" stroke-width="3.0" stroke-linejoin="round" stroke-dasharray="11 11.5"/><g fill="none" stroke="#ff0000" stroke-width="2.9"><rect x="724.4" y="674.8" width="5.6" height="5.6"/><rect x="737.3" y="671.6" width="5.6" height="5.6"/><rect x="751.3" y="667.7" width="5.6" height="5.6"/><rect x="764.7" y="663.3" width="5.6" height="5.6"/><rect x="778.5" y="657.6" width="5.6" height="5.6"/><rect x="792.9" y="651.3" width="5.6" height="5.6"/><rect x="806.3" y="644.2" width="5.6" height="5.6"/><rect x="820.3" y="634.6" width="5.6" height="5.6"/><rect x="834.1" y="623.1" width="5.6" height="5.6"/><rect x="848" y="609.7" width="5.6" height="5.6"/><rect x="861.8" y="593.4" width="5.6" height="5.6"/><rect x="875.2" y="574.6" width="5.6" height="5.6"/><rect x="889.2" y="553.6" width="5.6" height="5.6"/><rect x="902.6" y="534" width="5.6" height="5.6"/><rect x="916.2" y="519.1" width="5.6" height="5.6"/><rect x="930.7" y="518.3" width="5.6" height="5.6"/><rect x="944.1" y="537.5" width="5.6" height="5.6"/><rect x="958.1" y="577.7" width="5.6" height="5.6"/><rect x="972.3" y="627.5" width="5.6" height="5.6"/><rect x="985.7" y="673.9" width="5.6" height="5.6"/><rect x="999.9" y="709.2" width="5.6" height="5.6"/><rect x="1013.3" y="732.2" width="5.6" height="5.6"/><rect x="1027.9" y="744.2" width="5.6" height="5.6"/><rect x="1041.7" y="745.6" width="5.6" height="5.6"/><rect x="1055.7" y="736.1" width="5.6" height="5.6"/><rect x="1069.1" y="715" width="5.6" height="5.6"/><rect x="1082.8" y="679.6" width="5.6" height="5.6"/><rect x="1096.4" y="630.5" width="5.6" height="5.6"/><rect x="1110.6" y="574.2" width="5.6" height="5.6"/><rect x="1124.6" y="530.2" width="5.6" height="5.6"/><rect x="1138" y="516.8" width="5.6" height="5.6"/><rect x="1152.4" y="535.9" width="5.6" height="5.6"/><rect x="1166.2" y="573.3" width="5.6" height="5.6"/><rect x="1179.2" y="612.6" width="5.6" height="5.6"/></g>
<path clip-path="url(#clipd)" d="M727.2 816.4C729.45 820.88 736.22 835.15 740.7 843.3C745.18 851.45 751.17 861.8 754.1 865.3C757.03 868.8 756.63 868.62 758.3 864.3C759.97 859.98 762.57 847.53 764.1 839.4C765.63 831.27 766.23 826.98 767.5 815.5C768.77 804.02 770.35 786.63 771.7 770.5C773.05 754.37 774.07 740.08 775.6 718.7C777.13 697.32 779.15 662.62 780.9 642.2C782.65 621.78 784.43 610.25 786.1 596.2C787.77 582.15 789.47 567.32 790.9 557.9C792.33 548.48 793.1 545.45 794.7 539.7C796.3 533.95 798.1 526.92 800.5 523.4C802.9 519.88 805.28 518.98 809.1 518.6C812.92 518.22 818.83 520.23 823.4 521.1C827.97 521.97 832.02 523.25 836.5 523.8C840.98 524.35 845.62 524.72 850.3 524.4C854.98 524.08 859.88 522.7 864.6 521.9C869.32 521.1 873.97 519.6 878.6 519.6C883.23 519.6 887.93 518.83 892.4 521.9C896.87 524.97 901.9 531.68 905.4 538C908.9 544.32 911.02 552.55 913.4 559.8C915.78 567.05 917.47 571.92 919.7 581.5C921.93 591.08 924.5 605.27 926.8 617.3C929.1 629.33 931.27 639.97 933.5 653.7C935.73 667.43 937.97 685.83 940.2 699.7C942.43 713.57 943.45 719.75 946.9 736.9C950.35 754.05 956.2 785.03 960.9 802.6C965.6 820.17 970.5 832.82 975.1 842.3C979.7 851.78 983.9 855.67 988.5 859.5C993.1 863.33 998.07 864.23 1002.7 865.3C1007.33 866.37 1011.63 866.07 1016.3 865.9C1020.97 865.73 1026 864.88 1030.7 864.3C1035.4 863.72 1039.95 862.87 1044.5 862.4C1049.05 861.93 1053.43 861.65 1058 861.5C1062.57 861.35 1067.27 861.35 1071.9 861.5C1076.53 861.65 1081.18 861.9 1085.8 862.4C1090.42 862.9 1095 863.92 1099.6 864.5C1104.2 865.08 1108.77 866.63 1113.4 865.9C1118.03 865.17 1123.95 863.23 1127.4 860.1C1130.85 856.97 1131.87 855.02 1134.1 847.1C1136.33 839.18 1138.88 826.02 1140.8 812.6C1142.72 799.18 1144.17 782.25 1145.6 766.6C1147.03 750.95 1147.87 740.72 1149.4 718.7C1150.93 696.68 1153.2 661.3 1154.8 634.5C1156.4 607.7 1157.67 575.45 1159 557.9C1160.33 540.35 1161.37 535.65 1162.8 529.2C1164.23 522.75 1166.63 520.48 1167.6 519.2C1168.57 517.92 1167.8 519.83 1168.6 521.5C1169.4 523.17 1170.8 522.18 1172.4 529.2C1174 536.22 1176.43 554.03 1178.2 563.6C1179.97 573.17 1181.48 579.37 1183 586.6C1184.52 593.83 1186.58 603.6 1187.3 607" fill="none" stroke="#0000ff" stroke-width="3.0" stroke-linejoin="round" stroke-dasharray="11 3.2 5.5 3.2"/><g fill="none" stroke="#0000ff" stroke-width="2.8"><path d="M723.8 813L730.6 819.8M723.8 819.8L730.6 813"/><path d="M737.3 839.9L744.1 846.7M737.3 846.7L744.1 839.9"/><path d="M750.7 861.9L757.5 868.7M750.7 868.7L757.5 861.9"/><path d="M764.1 812.1L770.9 818.9M764.1 818.9L770.9 812.1"/><path d="M777.5 638.8L784.3 645.6M777.5 645.6L784.3 638.8"/><path d="M791.3 536.3L798.1 543.1M791.3 543.1L798.1 536.3"/><path d="M805.7 515.2L812.5 522M805.7 522L812.5 515.2"/><path d="M820 517.7L826.8 524.5M820 524.5L826.8 517.7"/><path d="M833.1 520.4L839.9 527.2M833.1 527.2L839.9 520.4"/><path d="M846.9 521L853.7 527.8M846.9 527.8L853.7 521"/><path d="M861.2 518.5L868 525.3M861.2 525.3L868 518.5"/><path d="M875.2 516.2L882 523M875.2 523L882 516.2"/><path d="M889 518.5L895.8 525.3M889 525.3L895.8 518.5"/><path d="M902 534.6L908.8 541.4M902 541.4L908.8 534.6"/><path d="M916.3 578.1L923.1 584.9M916.3 584.9L923.1 578.1"/><path d="M930.1 650.3L936.9 657.1M930.1 657.1L936.9 650.3"/><path d="M943.5 733.5L950.3 740.3M943.5 740.3L950.3 733.5"/><path d="M957.5 799.2L964.3 806M957.5 806L964.3 799.2"/><path d="M971.7 838.9L978.5 845.7M971.7 845.7L978.5 838.9"/><path d="M985.1 856.1L991.9 862.9M985.1 862.9L991.9 856.1"/><path d="M999.3 861.9L1006.1 868.7M999.3 868.7L1006.1 861.9"/><path d="M1012.9 862.5L1019.7 869.3M1012.9 869.3L1019.7 862.5"/><path d="M1027.3 860.9L1034.1 867.7M1027.3 867.7L1034.1 860.9"/><path d="M1041.1 859L1047.9 865.8M1041.1 865.8L1047.9 859"/><path d="M1054.6 858.1L1061.4 864.9M1054.6 864.9L1061.4 858.1"/><path d="M1068.5 858.1L1075.3 864.9M1068.5 864.9L1075.3 858.1"/><path d="M1082.4 859L1089.2 865.8M1082.4 865.8L1089.2 859"/><path d="M1096.2 861.1L1103 867.9M1096.2 867.9L1103 861.1"/><path d="M1110 862.5L1116.8 869.3M1110 869.3L1116.8 862.5"/><path d="M1124 856.7L1130.8 863.5M1124 863.5L1130.8 856.7"/><path d="M1137.4 809.2L1144.2 816M1137.4 816L1144.2 809.2"/><path d="M1151.4 631.1L1158.2 637.9M1151.4 637.9L1158.2 631.1"/><path d="M1165.2 518.1L1172 524.9M1165.2 524.9L1172 518.1"/><path d="M1179.6 583.2L1186.4 590M1179.6 590L1186.4 583.2"/></g>
<g font-size="25.9" font-weight="bold" fill="#262626">
<text x="726.9" y="897.8" text-anchor="middle">8</text>
<text x="803.58" y="897.8" text-anchor="middle">10</text>
<text x="880.27" y="897.8" text-anchor="middle">12</text>
<text x="956.95" y="897.8" text-anchor="middle">14</text>
<text x="1033.63" y="897.8" text-anchor="middle">16</text>
<text x="1110.32" y="897.8" text-anchor="middle">18</text>
<text x="1187" y="897.8" text-anchor="middle">20</text>
<text x="718.6" y="875.3" text-anchor="end">-1</text>
<text x="718.6" y="788.62" text-anchor="end">-0.5</text>
<text x="718.6" y="701.95" text-anchor="end">0</text>
<text x="718.6" y="615.28" text-anchor="end">0.5</text>
<text x="718.6" y="528.6" text-anchor="end">1</text>
</g>
<g font-size="28.5" font-weight="bold" fill="#262626" text-anchor="middle">
<text x="306.2" y="423.5">Frequency (GHz)</text>
<text x="953.3" y="423.7">Frequency (GHz)</text>
<text x="305.85" y="933.9">Frequency (GHz)</text>
<text x="956.95" y="933.8">Frequency (GHz)</text>
<text transform="translate(20 182.35) rotate(-90)" x="0" y="0">Reflection Coefficient (dB)</text>
<text transform="translate(670 182.55) rotate(-90)" x="0" y="0">PCR</text>
<text transform="translate(28 692.75) rotate(-90)" x="0" y="0">AR (dB)</text>
<text transform="translate(668.8 692.75) rotate(-90)" x="0" y="0">Ellipticity value</text>
</g>
<path d="M285.00 445.00C279.83 449.48 276.80 455.02 276.80 462.90C276.80 470.78 279.83 476.32 285.00 480.80L285.75 480.05C281.76 475.79 279.10 470.06 279.10 462.90C279.10 455.74 281.76 450.01 285.75 445.75Z" fill="#000"/>
<path d="M307.70 445.00C312.87 449.48 315.90 455.02 315.90 462.90C315.90 470.78 312.87 476.32 307.70 480.80L306.95 480.05C310.94 475.79 313.60 470.06 313.60 462.90C313.60 455.74 310.94 450.01 306.95 445.75Z" fill="#000"/>
<g fill="none" stroke="#000" stroke-linecap="butt"><path d="M290.6 458.8C291.8 456.9 293.5 456.1 295.4 456.1C298.7 456.1 300.5 458.2 300.5 461.5" stroke-width="1.2"/><path d="M300.4 461V470.8" stroke-width="2.7"/><path d="M299.2 463.2C294.5 463.3 288.6 464.8 288.6 469.2C288.6 471.9 290.8 473.6 293.6 473.6C296.4 473.6 298.8 472 299.6 469.5" stroke-width="1.3"/><path d="M289.5 466.4C288.6 467.9 288.6 470.5 289.7 471.9" stroke-width="1.9"/><path d="M300.9 470.2C301.2 471.8 301.9 472.5 302.9 472.5C304.3 472.5 305.0 470.8 305.1 467.4" stroke-width="1.1"/></g><circle cx="291.1" cy="460.2" r="1.7" fill="#000"/>
<path d="M931.00 444.90C925.52 449.42 922.30 455.04 922.30 463.00C922.30 470.96 925.52 476.58 931.00 481.10L931.75 480.35C927.46 476.03 924.60 470.24 924.60 463.00C924.60 455.76 927.46 449.97 931.75 445.65Z" fill="#000"/>
<path d="M956.10 444.90C961.46 449.42 964.60 455.04 964.60 463.00C964.60 470.96 961.46 476.58 956.10 481.10L955.35 480.35C959.52 476.03 962.30 470.24 962.30 463.00C962.30 455.76 959.52 449.97 955.35 445.65Z" fill="#000"/>
<g fill="none" stroke="#000"><path d="M937.7 446.3V472.3" stroke-width="2.4"/><path d="M933.9 447.0H938.5" stroke-width="1.3"/><path d="M938.6 459.8C939.8 457.3 942.0 456.0 944.4 456.0C949.2 456.0 952.0 459.8 952.0 464.7C952.0 469.6 948.8 473.4 944.2 473.4C941.7 473.4 939.7 472.2 938.7 470.2" stroke-width="1.15"/><path d="M951.0 460.2C951.9 462.7 951.9 466.6 951.0 469.2" stroke-width="2.0"/><path d="M936.6 472.7L938.1 469.8" stroke-width="1.0"/></g>
<path d="M285.70 955.10C280.60 959.60 277.60 965.18 277.60 973.10C277.60 981.02 280.60 986.60 285.70 991.10L286.45 990.35C282.52 986.06 279.90 980.30 279.90 973.10C279.90 965.90 282.52 960.14 286.45 955.85Z" fill="#000"/>
<path d="M307.30 955.10C312.15 959.60 315.00 965.18 315.00 973.10C315.00 981.02 312.15 986.60 307.30 991.10L306.55 990.35C310.24 986.06 312.70 980.30 312.70 973.10C312.70 965.90 310.24 960.14 306.55 955.85Z" fill="#000"/>
<g fill="none" stroke="#000"><path d="M301.7 968.6C300.3 966.9 298.4 966.1 296.5 966.1C292.4 966.1 289.7 969.9 289.7 974.8C289.7 979.8 292.7 983.4 296.7 983.4C299.8 983.4 302.3 981.3 303.2 978.2" stroke-width="1.2"/><path d="M290.9 969.5C289.9 972.0 289.9 977.6 290.9 980.2" stroke-width="2.0"/></g><circle cx="301.4" cy="969.9" r="1.75" fill="#000"/>
<path d="M930.60 955.00C925.56 959.48 922.60 965.02 922.60 972.90C922.60 980.78 925.56 986.32 930.60 990.80L931.35 990.05C927.48 985.79 924.90 980.06 924.90 972.90C924.90 965.74 927.48 960.01 931.35 955.75Z" fill="#000"/>
<path d="M955.30 955.00C960.53 959.48 963.60 965.02 963.60 972.90C963.60 980.78 960.53 986.32 955.30 990.80L954.55 990.05C958.60 985.79 961.30 980.06 961.30 972.90C961.30 965.74 958.60 960.01 954.55 955.75Z" fill="#000"/>
<g fill="none" stroke="#000"><path d="M948.5 956.6V982.6" stroke-width="2.4"/><path d="M944.3 957.3H949.3" stroke-width="1.3"/><path d="M948.2 982.6H952.4" stroke-width="1.3"/><path d="M947.6 969.6C946.6 967.4 944.6 966.3 942.5 966.3C938.0 966.3 935.0 970.2 935.0 974.7C935.0 979.4 938.0 983.2 942.4 983.2C944.7 983.2 946.7 981.8 947.6 979.7" stroke-width="1.15"/><path d="M936.0 970.2C935.1 972.8 935.1 976.7 936.0 979.3" stroke-width="2.1"/></g>
<g font-size="25.9" font-weight="bold" fill="#000">
<path d="M96.4 251H138.4" stroke="#000000" stroke-width="3.0" fill="none"/>
<text x="142.4" y="254.9">Ring (R<tspan font-size="19.8" dx="0.8" dy="12.5">yy</tspan><tspan dy="-12.5">)</tspan></text>
<path d="M96.4 292.7H138.4" stroke="#ff0000" stroke-width="3.0" fill="none" stroke-dasharray="11 11.5"/>
<text x="142.4" y="296.6">Stripe (R<tspan font-size="19.8" dx="0.8" dy="12.5">yy</tspan><tspan dy="-12.5">)</tspan></text>
<path d="M96.4 334.6H138.4" stroke="#0000ff" stroke-width="3.0" fill="none" stroke-dasharray="11 3.2 5.5 3.2"/>
<text x="142.4" y="338.5">Proposed (R<tspan font-size="19.8" dx="0.8" dy="12.5">yy</tspan><tspan dy="-12.5">)</tspan></text>
<path d="M317.8 251H359.8" stroke="#000000" stroke-width="3.0" fill="none"/><g fill="none" stroke="#000000" stroke-width="2.61"><circle cx="338.8" cy="251" r="2.96"/></g>
<text x="364.4" y="254.9">Ring (R<tspan font-size="19.8" dx="0.8" dy="12.5">xy</tspan><tspan dy="-12.5">)</tspan></text>
<path d="M317.8 292.7H359.8" stroke="#ff0000" stroke-width="3.0" fill="none"/><g fill="none" stroke="#ff0000" stroke-width="2.52"><rect x="336.36" y="290.26" width="4.87" height="4.87"/></g>
<text x="364.4" y="296.6">Stripe (R<tspan font-size="19.8" dx="0.8" dy="12.5">xy</tspan><tspan dy="-12.5">)</tspan></text>
<path d="M317.8 334.6H359.8" stroke="#0000ff" stroke-width="3.0" fill="none"/><g fill="none" stroke="#0000ff" stroke-width="2.44"><path d="M335.84 331.64L341.76 337.56M335.84 337.56L341.76 331.64"/></g>
<text x="364.4" y="338.5">Proposed (R<tspan font-size="19.8" dx="0.8" dy="12.5">xy</tspan><tspan dy="-12.5">)</tspan></text>
<path d="M923.8 244.3H966.4" stroke="#000000" stroke-width="3.0" fill="none"/><g fill="none" stroke="#000000" stroke-width="2.61"><circle cx="945.1" cy="244.3" r="2.96"/></g>
<text x="970.2" y="254.2">Ring</text>
<path d="M923.8 274.1H966.4" stroke="#ff0000" stroke-width="3.0" fill="none" stroke-dasharray="11 11.5"/><g fill="none" stroke="#ff0000" stroke-width="2.52"><rect x="942.66" y="271.66" width="4.87" height="4.87"/></g>
<text x="970.2" y="284">Stripe</text>
<path d="M923.8 304.8H966.4" stroke="#0000ff" stroke-width="3.0" fill="none" stroke-dasharray="11 3.2 5.5 3.2"/><g fill="none" stroke="#0000ff" stroke-width="2.44"><path d="M942.14 301.84L948.06 307.76M942.14 307.76L948.06 301.84"/></g>
<text x="970.2" y="314.7">Proposed</text>
<path d="M81.8 538.2H124.4" stroke="#000000" stroke-width="3.0" fill="none"/><g fill="none" stroke="#000000" stroke-width="2.61"><circle cx="103.1" cy="538.2" r="2.96"/></g>
<text x="129.4" y="548.1">Ring</text>
<path d="M81.8 568.2H124.4" stroke="#ff0000" stroke-width="3.0" fill="none" stroke-dasharray="11 11.5"/><g fill="none" stroke="#ff0000" stroke-width="2.52"><rect x="100.66" y="565.76" width="4.87" height="4.87"/></g>
<text x="129.4" y="578.1">Stripe</text>
<path d="M81.8 598.4H124.4" stroke="#0000ff" stroke-width="3.0" fill="none" stroke-dasharray="11 3.2 5.5 3.2"/><g fill="none" stroke="#0000ff" stroke-width="2.44"><path d="M100.14 595.44L106.06 601.36M100.14 601.36L106.06 595.44"/></g>
<text x="129.4" y="608.3">Proposed</text>
<path d="M791.8 782H834.4" stroke="#000000" stroke-width="3.0" fill="none"/><g fill="none" stroke="#000000" stroke-width="2.61"><circle cx="813.1" cy="782" r="2.96"/></g>
<text x="838.4" y="791.9">Ring</text>
<path d="M791.8 811.7H834.4" stroke="#ff0000" stroke-width="3.0" fill="none" stroke-dasharray="11 11.5"/><g fill="none" stroke="#ff0000" stroke-width="2.52"><rect x="810.66" y="809.26" width="4.87" height="4.87"/></g>
<text x="838.4" y="821.6">Stripe</text>
<path d="M791.8 841.9H834.4" stroke="#0000ff" stroke-width="3.0" fill="none" stroke-dasharray="11 3.2 5.5 3.2"/><g fill="none" stroke="#0000ff" stroke-width="2.44"><path d="M810.14 838.94L816.06 844.86M810.14 844.86L816.06 838.94"/></g>
<text x="838.4" y="851.8">Proposed</text>
</g>
</svg></body></html>
